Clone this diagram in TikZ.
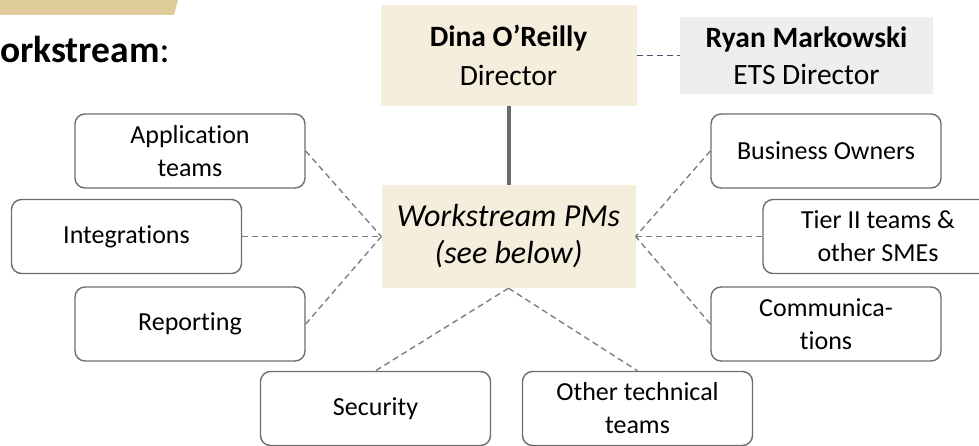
\documentclass[tikz,border=0pt]{standalone}
\usepackage{fontspec}
\setmainfont[Ligatures=NoCommon]{Carlito}
\definecolor{goldbar}{HTML}{E0CC9A}
\definecolor{cream}{HTML}{F6EEDC}
\definecolor{lightgray}{HTML}{EEEEEE}
\definecolor{boxgray}{HTML}{6E6E6E}
\definecolor{dashgray}{HTML}{7F7F7F}
\definecolor{slate}{HTML}{44546A}
\definecolor{vgray}{HTML}{6B6B6B}
\begin{document}
\begin{tikzpicture}[x=1pt,y=-1pt,
  team/.style={draw=boxgray, line width=1.4pt, rounded corners=10pt, fill=white,
    minimum width=230pt, minimum height=74pt, inner sep=0pt, align=center,
    font=\fontsize{26}{33}\selectfont},
  link/.style={draw=dashgray, line width=1.4pt, dash pattern=on 6pt off 4pt},
  lead/.style={inner sep=0pt, align=center},
]
\clip (0,0) rectangle (979,446);
\fill[goldbar] (0,0) -- (178,0) -- (174,15) -- (0,15) -- cycle;
\node[anchor=base west, inner sep=0pt, font=\fontsize{37.5}{40}\selectfont] (title) at (0,63) {\textbf{orkstream}:};

\node[lead, fill=cream, minimum width=256pt, minimum height=101pt,
  font=\fontsize{29.5}{39}\selectfont] (dina) at (508.5,55.5)
  {\textbf{Dina O’Reilly}\\Director};
\node[lead, fill=lightgray, minimum width=253pt, minimum height=77pt,
  font=\fontsize{29.5}{36.7}\selectfont] (ryan) at (806.5,55.5)
  {\textbf{Ryan Markowski}\\ETS Director};
\node[lead, fill=cream, minimum width=254pt, minimum height=103pt,
  font=\fontsize{32}{37}\selectfont\itshape] (pms) at (508.5,236.5)
  {Workstream PMs\\(see below)};

\node[team] (app) at (190,151) {Application\\teams};
\node[team] (int) at (126.5,236.5) {Integrations};
\node[team] (rep) at (190,324) {Reporting};
\node[team] (sec) at (375.5,408.5) {Security};
\node[team] (oth) at (637.5,408.5) {Other technical\\teams};
\node[team] (bus) at (826,151) {Business Owners};
\node[team] (tier) at (878,236.5) {Tier II teams \&\\other SMEs};
\node[team] (com) at (826,324) {Communica-\\tions};

\draw[slate, line width=1.4pt, dash pattern=on 6pt off 4pt] (dina.east) -- (ryan.west);
\draw[vgray, line width=4pt] (dina.south) -- (pms.north);

\draw[link] (app.east) -- (pms.west);
\draw[link] (int.east) -- (pms.west);
\draw[link] (rep.east) -- (pms.west);
\draw[link] (bus.west) -- (pms.east);
\draw[link] (tier.west) -- (pms.east);
\draw[link] (com.west) -- (pms.east);
\draw[link] (pms.south) -- (sec.north);
\draw[link] (pms.south) -- (oth.north);
\end{tikzpicture}
\end{document}
